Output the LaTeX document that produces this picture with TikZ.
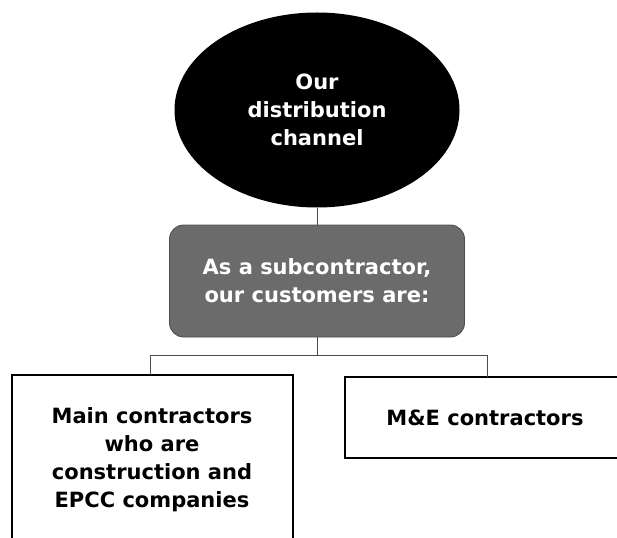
\documentclass[tikz,border=0pt]{standalone}
\usepackage{fontspec}
\setmainfont{DejaVu Sans}
\usetikzlibrary{shapes.geometric}
\begin{document}
\begin{tikzpicture}[x=1pt,y=-1pt,
  txt/.style={font=\bfseries\fontsize{21}{28}\selectfont, align=center},
  conn/.style={draw=black!70, line width=0.9pt},
  box/.style={draw=black, line width=1.3pt, fill=white}]
\useasboundingbox (0,0) rectangle (617,537);
\node[ellipse, fill=black, minimum width=285pt, minimum height=195pt, inner sep=0pt, text=white, txt] (top) at (317,110) {Our\\distribution\\channel};
\node[rounded corners=14pt, fill=black!58, draw=black!70, line width=0.8pt, minimum width=295pt, minimum height=112pt, text=white, txt] (sub) at (317,281) {As a subcontractor,\\our customers are:};
\coordinate (j) at (317,355);
\coordinate (jl) at (150,355);
\coordinate (jr) at (487,355);
\draw[box] (12,375) rectangle (293,545);
\node[txt, text=black] (main) at (152,460) {Main contractors\\who are\\construction and\\EPCC companies};
\draw[box] (345,377) rectangle (625,458);
\node[txt, text=black] (me) at (485,418) {M\&E contractors};
\coordinate (mt) at (150,375);
\coordinate (mr) at (487,377);
\draw[conn] (top.south) -- (sub.north);
\draw[conn] (sub.south) -- (j);
\draw[conn] (mt) -- (jl) -- (jr) -- (mr);
\end{tikzpicture}
\end{document}
